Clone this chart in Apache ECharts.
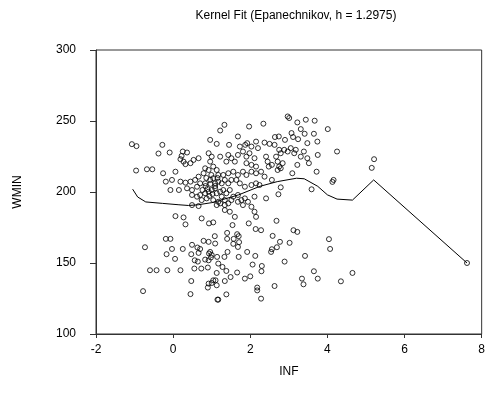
<!DOCTYPE html>
<html>
<head>
<meta charset="utf-8">
<script src="https://cdn.jsdelivr.net/npm/echarts@6/dist/echarts.min.js"></script>
<style>
html,body{margin:0;padding:0;background:#fff;}
#c{width:488px;height:403px;}
</style>
</head>
<body>
<div id="c"></div>
<script>
var chartTitle = "Kernel Fit (Epanechnikov, h = 1.2975)";
var xName = "INF";
var yName = "WMIN";
var xTicks = [-2, 0, 2, 4, 6, 8];
var yTicks = [100, 150, 200, 250, 300];

var infValues = [
-1.07,-0.95,-0.38,-0.96,-0.68,-0.54,
1.33,1.97,2.34,2.97,3.01,3.22,3.44,3.67,3.31,4.01,
1.22,1.68,0.96,1.13,1.45,1.73,1.87,1.92,2.03,2.15,2.20,-0.28,-0.09,0.25,0.36,0.22,0.19,0.27,0.45,0.32,0.66,0.53,0.92,1.00,0.96,1.22,1.43,1.38,1.51,1.60,1.68,1.81,1.90,1.98,2.11,1.90,2.03,2.15,
-0.26,0.06,-0.03,-0.19,0.19,0.32,0.45,0.57,0.66,0.79,0.83,0.92,1.04,1.13,1.17,1.30,1.43,1.56,1.68,1.81,1.90,2.03,2.15,
-0.07,0.15,0.36,0.49,0.62,0.70,0.83,0.96,1.04,1.09,1.17,1.26,1.34,1.43,1.51,1.64,1.73,1.86,2.03,2.15,
0.49,0.62,0.70,0.83,0.92,1.00,1.09,1.13,1.22,1.30,1.38,1.47,1.56,1.68,
0.74,0.87,1.04,1.17,1.26,1.34,1.43,1.51,1.77,1.86,1.94,2.11,
0.49,0.66,1.13,1.22,1.34,1.68,1.81,0.06,0.27,0.74,1.34,1.47,1.60,2.03,2.11,2.15,
0.84,0.97,0.89,1.02,0.76,0.94,1.09,0.86,0.99,1.15,
0.32,0.93,1.04,1.54,1.96,2.14,2.28,2.68,
2.37,2.50,2.64,2.74,2.90,3.07,3.11,3.24,3.41,3.65,3.48,3.74,3.05,3.14,2.97,2.88,2.75,2.79,2.63,3.18,3.39,3.31,3.48,3.75,2.71,2.84,2.75,2.79,2.56,2.71,3.22,3.52,3.09,3.72,3.59,4.16,4.13,4.25,2.41,2.45,2.48,2.28,2.37,2.56,2.24,2.41,2.73,2.79,2.67,
-0.19,-0.07,-0.73,-0.03,0.25,-0.17,0.05,-0.60,-0.43,-0.15,0.19,-0.78,0.49,0.63,0.79,0.92,1.08,1.09,0.47,0.66,0.70,0.93,0.96,1.00,1.14,0.56,0.64,0.83,0.92,0.98,0.55,0.73,0.90,1.13,1.04,1.10,0.92,1.00,0.47,0.45,1.15,1.13,0.90,
1.40,1.66,1.57,1.40,1.56,1.68,1.41,1.33,1.17,1.28,1.38,1.66,1.49,1.34,1.38,1.17,
1.70,1.71,1.70,1.92,2.13,2.06,2.30,2.29,1.86,2.00,2.18,2.18,2.28,2.63,2.58,2.77,2.69,2.56,2.54,3.02,2.89,3.42,3.65,3.75,3.34,3.38,4.04,4.07,4.35,4.65,3.12,3.22,
5.21,5.15,7.62
];
var wminValues = [
233.7,232.3,227.1,215.1,216.0,216.0,
247.3,246.1,248.1,253.2,252.1,249.0,250.9,250.2,244.3,244.3,
243.3,239.1,236.7,233.9,233.2,232.0,233.2,234.4,232.0,235.5,230.9,233.2,227.8,228.5,227.8,225.4,223.1,221.4,220.3,219.6,223.8,222.6,227.3,224.9,221.4,224.9,226.1,221.4,223.8,221.4,226.1,228.5,224.9,227.3,223.8,220.3,219.1,217.9,
213.2,214.3,208.5,207.3,207.3,206.6,207.3,208.5,210.8,213.2,216.7,215.5,217.9,215.5,212.0,212.0,213.2,214.3,212.0,214.3,212.0,214.3,213.2,
201.4,201.4,202.6,201.4,203.7,206.1,206.1,208.5,209.7,206.1,207.3,206.1,208.5,206.1,208.5,208.5,206.1,203.7,204.9,206.1,
197.9,196.7,197.9,199.1,200.2,201.4,202.6,199.1,200.2,201.4,199.1,201.4,196.7,197.9,
194.3,195.5,194.3,193.1,196.7,194.3,192.0,194.3,194.3,195.5,193.1,196.7,
190.8,190.1,190.8,192.0,190.8,193.1,190.8,183.0,182.1,181.4,187.3,186.1,182.5,189.6,186.1,182.5,
204.2,205.7,202.1,198.6,201.4,197.2,204.2,209.9,212.0,209.9,
177.2,177.9,178.6,176.7,177.9,173.9,173.1,179.7,
234.8,233.9,238.7,239.1,236.7,241.5,238.7,237.2,241.0,241.0,234.4,235.5,230.9,227.3,228.5,229.7,229.7,227.3,233.2,229.7,228.5,224.9,223.8,226.1,221.4,220.3,217.9,216.7,219.1,215.5,219.1,220.3,213.2,214.3,201.9,208.5,207.1,228.5,224.9,221.4,217.9,214.3,210.8,208.5,204.9,195.5,198.4,203.3,224.9,
167.0,167.0,161.1,159.9,159.9,156.2,152.9,144.9,144.9,144.9,144.9,130.2,162.8,160.9,165.6,164.9,168.9,163.7,156.2,157.1,159.9,156.7,157.8,155.7,154.3,151.9,151.0,152.4,151.9,153.9,146.1,146.1,146.8,143.0,137.8,137.8,135.5,135.9,137.3,128.1,124.2,134.3,132.7,
171.2,170.3,167.0,167.0,163.5,161.3,157.8,154.3,149.6,147.2,144.4,143.3,140.1,137.3,127.9,124.2,
168.9,164.7,154.3,157.8,155.0,148.9,147.9,144.2,139.0,140.6,132.7,130.7,124.9,133.8,169.1,164.9,161.1,159.7,157.8,164.2,151.0,155.0,144.2,139.0,139.0,135.0,166.8,159.9,137.1,143.0,173.1,171.9,
223.1,217.0,150.0
];

var fitInf  = [-1.05,-0.92,-0.71,-0.28,0.15,0.40,0.65,1.00,1.20,1.70,2.25,2.70,3.20,3.40,3.75,4.00,4.25,4.65,5.20,7.62];
var fitWmin = [202.0,196.5,193.0,192.0,191.0,190.5,191.0,192.5,194.0,198.0,204.0,207.3,209.7,209.3,204.0,198.0,195.0,194.3,208.5,150.0];

var pts = infValues.map(function(v,i){ return [v, wminValues[i]]; });
var fit = fitInf.map(function(v,i){ return [v, fitWmin[i]]; });

var font = "'Liberation Sans', Arial, sans-serif";
var chart = echarts.init(document.getElementById('c'), null, {renderer:'canvas'});
chart.setOption({
  animation:false,
  backgroundColor:'#fff',
  title:{text:chartTitle, left:291, top:5, textAlign:'center',
    textStyle:{fontFamily:font, fontSize:12, fontWeight:'normal', color:'#000'}},
  grid:{left:96, right:2, top:50, bottom:69, show:true, borderColor:'#333', borderWidth:1, backgroundColor:'#fff'},
  xAxis:{type:'value', min:xTicks[0], max:xTicks[xTicks.length-1], interval:2,
    name:xName, nameLocation:'middle', nameGap:32,
    nameTextStyle:{fontFamily:font, fontSize:12, color:'#000'},
    axisLine:{show:true, onZero:false, lineStyle:{color:'#333', width:1}},
    axisTick:{show:true, length:4, lineStyle:{color:'#333'}},
    axisLabel:{fontFamily:font, fontSize:12, color:'#000', margin:10},
    splitLine:{show:false}},
  yAxis:{type:'value', min:yTicks[0], max:yTicks[yTicks.length-1], interval:50,
    name:yName, nameLocation:'middle', nameGap:72, nameRotate:90,
    nameTextStyle:{fontFamily:font, fontSize:12, color:'#000'},
    axisLine:{show:true, onZero:false, lineStyle:{color:'#333', width:1}},
    axisTick:{show:true, length:6, lineStyle:{color:'#333'}},
    axisLabel:{fontFamily:font, fontSize:12, color:'#000', margin:20},
    splitLine:{show:false}},
  series:[
    {type:'scatter', data:pts, symbol:'circle', symbolSize:5,
      itemStyle:{color:'rgba(255,255,255,0)', borderColor:'#000', borderWidth:1}, z:2},
    {type:'line', data:fit, showSymbol:false, symbol:'none', smooth:false,
      lineStyle:{color:'#000', width:1}, z:3}
  ]
});
</script>
</body>
</html>
